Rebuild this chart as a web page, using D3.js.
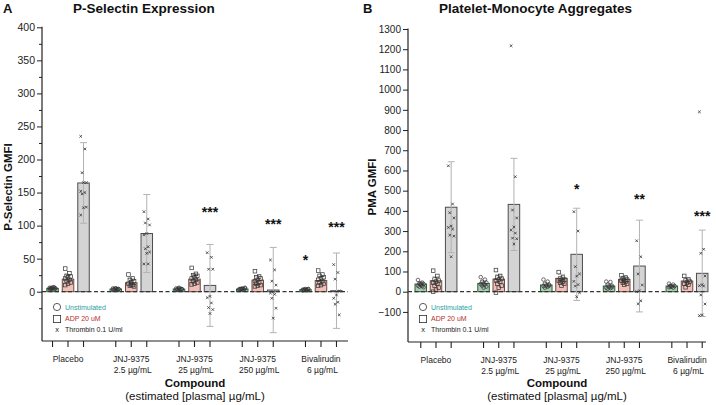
<!DOCTYPE html>
<html><head><meta charset="utf-8">
<script src="https://cdn.jsdelivr.net/npm/d3@7"></script>
<style>body{margin:0;background:#fff} svg{display:block} text{font-family:"Liberation Sans",Arial,Helvetica,sans-serif}</style>
</head><body><svg id="c" width="716" height="405"></svg>
<script>
// ---------- DATA ----------
const categories = ["Placebo", "JNJ-9375|2.5 µg/mL", "JNJ-9375|25 µg/mL", "JNJ-9375|250 µg/mL", "Bivalirudin|6 µg/mL"];
const conditions = ["Unstimulated", "ADP 20 uM", "Thrombin 0.1 U/ml"];

// Panel A: P-Selectin GMFI
const aMeanUnstim = [5, 4, 4, 4, 3];
const aMeanADP    = [19, 13.5, 19, 17.5, 17];
const aMeanThr    = [164.5, 88, 9.5, 2.5, 1.5];
const aSdUnstim   = [1.5, 1, 1, 1, 1];
const aSdADP      = [7, 6, 7, 6, 6];
const aSdThr      = [61, 59, 62, 64.5, 57];
const aPtsUnstim  = [[3,4,5,5,6,6,7,4,5,6,5],[3,3,4,4,5,5,4,3,4,5],[3,3,4,4,5,5,4,3,4,6],[3,4,4,5,5,4,3,4,6,4],[2,3,3,4,4,3,2,3,4,3]];
const aPtsADP     = [[35,28,24,23,22,20,18,16,14,12,10],[26,20,18,16,14,12,10,9,8,11],[36,27,25,24,22,20,18,16,14,12,11],[31,23,22,20,18,16,14,12,10,9,8],[32,26,24,22,20,18,16,14,12,10,9]];
const aPtsThr     = [[235,216,180,165,165,152,150,148,128,127,116],[121,110,104,101,88,86,68,65,60,58,42,42],[59,52,34,34,-7,-9,-17,-24,-27,-33],[48,33,16,10,0,-2,-4,-10,-25,-40],[41,29,19,1,-5,-10,-16,-19,-35]];
const aStarThr    = ["", "", "***", "***", "***"];
const aStarThrAt  = [null, null, 125, 107, 102];
const aStarUnst   = ["", "", "", "", "*"];
const aStarUnstAt = [null, null, null, null, 52];
const aTickLabels = [0, 50, 100, 150, 200, 250, 300, 350, 400];

// Panel B: PMA GMFI
const bMeanUnstim = [38, 41, 33, 28, 28];
const bMeanADP    = [54, 62, 66, 61, 53];
const bMeanThr    = [418, 432, 185, 127, 91];
const bSdUnstim   = [10, 12, 10, 8, 7];
const bSdADP      = [20, 22, 20, 15, 15];
const bSdThr      = [225, 228, 228, 227, 214];
const bPtsUnstim  = [[58,45,40,38,35,30,28,25,22,40],[72,60,50,45,40,38,35,30,25,20],[60,50,40,35,30,28,25,20,30],[50,48,35,30,25,20,18,15,22],[40,35,30,28,25,22,20,25]];
const bPtsADP     = [[104,78,60,55,50,45,40,30,20,10,0],[107,78,70,65,60,55,50,40,30,20,-5],[97,70,65,60,58,55,50,45,40,30],[81,70,65,60,58,55,50,45,40,35],[78,60,55,50,45,40,35,22]];
const bPtsThr     = [[623,434,391,365,325,318,310,280,275,173],[1217,569,404,365,320,305,290,265,262,236],[396,300,124,88,77,51,35,28,-5,-25],[252,173,88,33,5,0,-45,-60],[890,210,190,78,35,30,28,-16,-61,-115,-118]];
const bStarThr    = ["", "", "*", "**", "***"];
const bStarThrAt  = [null, null, 522, 473, 389];
const bTickLabels = [-100,0,100,200,300,400,500,600,700,800,900,1000,1100,1200,1300];

// ---------- STYLE ----------
const FILL = ["#a9cdb0", "#f2c0b7", "#d4d4d4"];
const STROKE = ["#2f5a3c", "#6b4a45", "#4d4d4d"];
const LEG_COL = ["#2a9fa3", "#b3302b", "#222"];

const svg = d3.select("#c");

function drawPanel(cfg) {
  const g = svg.append("g");
  const y = d3.scaleLinear().domain(cfg.yDom).range([cfg.y0px, cfg.ytopPx]);
  const x = d3.scaleBand().domain(categories).range(cfg.xRange);
  const xs = d3.scalePoint().domain(conditions).range([-cfg.sub, cfg.sub]);
  const cx = (gi, ci) => x(categories[gi]) + x.bandwidth() / 2 + xs(conditions[ci]);
  const bw = 11.5;

  // y axis
  const major = d3.axisLeft(y).tickValues(cfg.labels).tickFormat(d3.format("d")).tickSize(5).tickPadding(2);
  const ya = g.append("g").attr("transform", `translate(${cfg.ax},0)`).call(major);
  ya.select(".domain").remove();
  ya.selectAll("text").attr("font-size", cfg.tickFs).attr("fill", "#222").style("font-family", '"Liberation Sans",Arial,sans-serif');
  ya.selectAll("line").attr("stroke", "#222");
  if (cfg.minor) {
    const mi = g.append("g").attr("transform", `translate(${cfg.ax},0)`).call(d3.axisLeft(y).tickValues(cfg.minor).tickSize(3).tickFormat(""));
    mi.select(".domain").remove();
    mi.selectAll("line").attr("stroke", "#222");
  }
  g.append("line").attr("x1", cfg.ax).attr("x2", cfg.ax).attr("y1", y(cfg.yDom[1]) - 0.5).attr("y2", cfg.bottom).attr("stroke", "#222").attr("stroke-width", 1.2);
  // x axis
  g.append("line").attr("x1", cfg.ax).attr("x2", cfg.xEnd).attr("y1", cfg.bottom).attr("y2", cfg.bottom).attr("stroke", "#222").attr("stroke-width", 1.2);
  const tickPos = [];
  categories.forEach((c, gi) => conditions.forEach((k, ci) => tickPos.push(cx(gi, ci))));
  g.selectAll(".xt").data(tickPos).join("line").attr("x1", d => d).attr("x2", d => d).attr("y1", cfg.bottom).attr("y2", cfg.bottom + 6).attr("stroke", "#222").attr("stroke-width", 1.1);
  // category labels
  categories.forEach((c, gi) => {
    const lines = c.split("|");
    const t = g.append("text").attr("text-anchor", "middle").attr("font-size", 8.5).attr("fill", "#222");
    lines.forEach((ln, li) => t.append("tspan").attr("x", cx(gi, 1) + (li ? 1.5 : 0)).attr("y", cfg.bottom + 21 + li * 11).text(ln));
  });
  const mid = (cfg.ax + cfg.xEnd) / 2;
  g.append("text").attr("x", mid).attr("y", 387).attr("text-anchor", "middle").attr("font-size", 11.5).attr("font-weight", "bold").attr("fill", "#111").text("Compound");
  g.append("text").attr("x", mid).attr("y", 399.5).attr("text-anchor", "middle").attr("font-size", 11.5).attr("fill", "#111").text("(estimated [plasma] µg/mL)");

  // title & letter
  g.append("text").attr("x", cfg.letterX).attr("y", 13).attr("font-size", 13).attr("font-weight", "bold").attr("fill", "#111").text(cfg.letter);
  g.append("text").attr("x", cfg.titleX).attr("y", 13).attr("font-size", 13.5).attr("font-weight", "bold").attr("fill", "#111").text(cfg.title);
  g.append("text").attr("transform", `translate(${cfg.ylabX},187) rotate(-90)`).attr("text-anchor", "middle").attr("font-size", 11.5).attr("font-weight", "bold").attr("fill", "#111").text(cfg.ylab);

  // bars
  const means = [cfg.mean[0], cfg.mean[1], cfg.mean[2]];
  for (let ci = 0; ci < 3; ci++) {
    g.selectAll(null).data(means[ci]).join("rect")
      .attr("x", (d, gi) => cx(gi, ci) - bw / 2).attr("width", bw)
      .attr("y", d => y(Math.max(0, d))).attr("height", d => Math.abs(y(0) - y(d)))
      .attr("fill", FILL[ci]).attr("stroke", STROKE[ci]).attr("stroke-width", 1);
  }
  // error bars
  for (let ci = 0; ci < 3; ci++) {
    means[ci].forEach((m, gi) => {
      const s = cfg.sd[ci][gi], xc = cx(gi, ci);
      const eg = g.append("g").attr("stroke", "#b3b3b3").attr("stroke-width", 1);
      eg.append("line").attr("x1", xc).attr("x2", xc).attr("y1", y(m - s)).attr("y2", y(m + s));
      eg.append("line").attr("x1", xc - 3.5).attr("x2", xc + 3.5).attr("y1", y(m + s)).attr("y2", y(m + s));
      eg.append("line").attr("x1", xc - 3.5).attr("x2", xc + 3.5).attr("y1", y(m - s)).attr("y2", y(m - s));
    });
  }
  // zero dashed line
  g.append("line").attr("x1", cfg.ax).attr("x2", cfg.xEnd).attr("y1", y(0)).attr("y2", y(0)).attr("stroke", "#333").attr("stroke-width", 1.3).attr("stroke-dasharray", "4,2.5");

  // points
  const jit = i => ((i * 3) % 5 - 2) * 1.4;
  cfg.pts[0].forEach((arr, gi) => g.selectAll(null).data(arr).join("circle")
    .attr("cx", (d, i) => cx(gi, 0) + jit(i)).attr("cy", d => y(d)).attr("r", 1.8)
    .attr("fill", "none").attr("stroke", "#333").attr("stroke-width", 0.7));
  cfg.pts[1].forEach((arr, gi) => g.selectAll(null).data(arr).join("rect")
    .attr("x", (d, i) => cx(gi, 1) + jit(i) - 1.8).attr("y", d => y(d) - 1.8).attr("width", 3.6).attr("height", 3.6)
    .attr("fill", "none").attr("stroke", "#333").attr("stroke-width", 0.7));
  cfg.pts[2].forEach((arr, gi) => g.selectAll(null).data(arr).join("path")
    .attr("d", (d, i) => { const px = cx(gi, 2) + jit(i), py = y(d), r = 1.3; return `M${px - r},${py - r}L${px + r},${py + r}M${px - r},${py + r}L${px + r},${py - r}`; })
    .attr("stroke", "#333").attr("stroke-width", 0.8));

  // stars
  const stars = (labels, at, ci) => labels.forEach((s, gi) => { if (s) g.append("text").attr("x", cx(gi, ci)).attr("y", y(at[gi]) + 8).attr("text-anchor", "middle").attr("font-size", 14).attr("font-weight", "bold").attr("fill", "#111").text(s); });
  stars(cfg.starThr, cfg.starThrAt, 2);
  if (cfg.starUn) stars(cfg.starUn, cfg.starUnAt, 0);

  // legend
  const lx = cfg.ax + 15, ly = 307;
  g.append("circle").attr("cx", lx).attr("cy", ly).attr("r", 3.6).attr("fill", "none").attr("stroke", "#333").attr("stroke-width", 0.8);
  g.append("rect").attr("x", lx - 3.6).attr("y", ly + 8.4).attr("width", 7.2).attr("height", 7.2).attr("fill", "none").attr("stroke", "#333").attr("stroke-width", 0.8);
  g.append("text").attr("x", lx).attr("y", ly + 24.5).attr("text-anchor", "middle").attr("font-size", 7.5).attr("fill", "#222").text("x");
  [0, 1, 2].forEach(i => g.append("text").attr("x", lx + 8).attr("y", ly + 2.5 + i * 11.2).attr("font-size", 7).attr("fill", LEG_COL[i]).text(conditions[i]));
}

drawPanel({
  letter: "A", letterX: 3, title: "P-Selectin Expression", titleX: 73, ylab: "P-Selectin GMFI", ylabX: 12,
  yDom: [0, 400], y0px: 291.7, ytopPx: 27.3, ax: 42, xEnd: 348, bottom: 341,
  xRange: [36.4, 352.6], sub: 15.5, tickFs: 10.5,
  labels: aTickLabels, minor: d3.range(-25, 400, 50),
  mean: [aMeanUnstim, aMeanADP, aMeanThr], sd: [aSdUnstim, aSdADP, aSdThr], pts: [aPtsUnstim, aPtsADP, aPtsThr],
  starThr: aStarThr, starThrAt: aStarThrAt, starUn: aStarUnst, starUnAt: aStarUnstAt
});
drawPanel({
  letter: "B", letterX: 363, title: "Platelet-Monocyte Aggregates", titleX: 439, ylab: "PMA GMFI", ylabX: 376,
  yDom: [0, 1300], y0px: 291.7, ytopPx: 29, ax: 408, xEnd: 706, bottom: 342,
  xRange: [404.6, 718.4], sub: 15.2, tickFs: 10,
  labels: bTickLabels, minor: null,
  mean: [bMeanUnstim, bMeanADP, bMeanThr], sd: [bSdUnstim, bSdADP, bSdThr], pts: [bPtsUnstim, bPtsADP, bPtsThr],
  starThr: bStarThr, starThrAt: bStarThrAt
});
</script></body></html>
